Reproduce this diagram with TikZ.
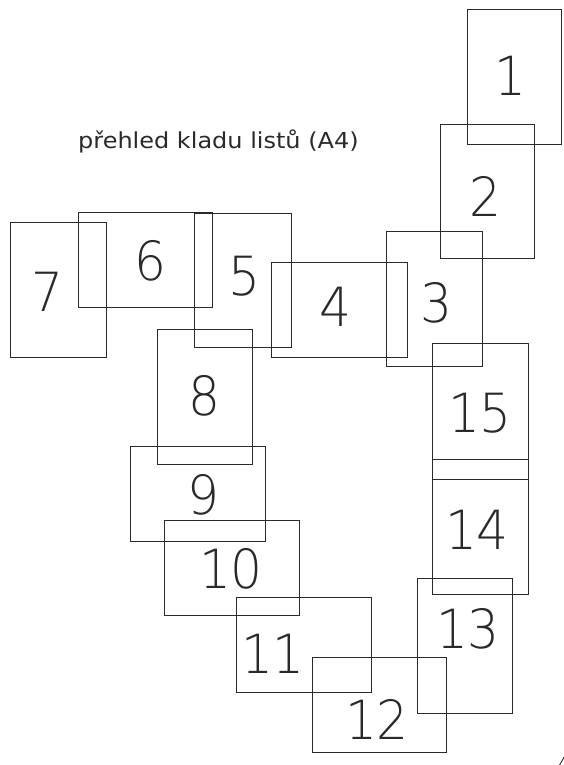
\documentclass[tikz,border=0pt]{standalone}
\usepackage{fontspec}
\setmainfont{Liberation Sans}
\newfontfamily\titlefont{DejaVu Sans}
\IfFontExistsTF{DejaVu Sans ExtraLight}
  {\newfontfamily\numfont{DejaVu Sans ExtraLight}\newcommand\numsx{0.93}}
  {\newfontfamily\numfont{Liberation Sans}\newcommand\numsx{0.88}}
\definecolor{ink}{HTML}{2A2A2A}
\newcommand\dg[1]{\scalebox{\numsx}[1]{#1}}
\begin{document}
\begin{tikzpicture}[x=1pt,y=-1pt,
  sheet/.style={draw=ink, line width=0.9pt, inner sep=0pt, outer sep=0pt, anchor=north west},
  num/.style={text=ink, inner sep=0pt, font=\numfont\fontsize{54}{54}\selectfont},
  ttl/.style={text=ink, inner sep=0pt, font=\titlefont\fontsize{22}{22}\selectfont}]
\useasboundingbox[fill=white] (0,0) rectangle (564,765);
% sheets
\node[sheet, minimum width=94pt,  minimum height=135pt] (s1)  at (467,9)   {};
\node[sheet, minimum width=94pt,  minimum height=134pt] (s2)  at (440,124) {};
\node[sheet, minimum width=96pt,  minimum height=135pt] (s3)  at (386,231) {};
\node[sheet, minimum width=136pt, minimum height=95pt]  (s4)  at (271,262) {};
\node[sheet, minimum width=97pt,  minimum height=134pt] (s5)  at (194,213) {};
\node[sheet, minimum width=134pt, minimum height=95pt]  (s6)  at (78,212)  {};
\node[sheet, minimum width=96pt,  minimum height=135pt] (s7)  at (10,222)  {};
\node[sheet, minimum width=95pt,  minimum height=135pt] (s8)  at (157,329) {};
\node[sheet, minimum width=135pt, minimum height=95pt]  (s9)  at (130,446) {};
\node[sheet, minimum width=135pt, minimum height=95pt]  (s10) at (164,520) {};
\node[sheet, minimum width=135pt, minimum height=95pt]  (s11) at (236,597) {};
\node[sheet, minimum width=134pt, minimum height=95pt]  (s12) at (312,657) {};
\node[sheet, minimum width=95pt,  minimum height=135pt] (s13) at (417,578) {};
\node[sheet, minimum width=96pt,  minimum height=135pt] (s14) at (432,459) {};
\node[sheet, minimum width=96pt,  minimum height=136pt] (s15) at (432,343) {};
% numbers
\node[num] (n1)  at (510,76)  {\dg{1}};
\node[num] (n2)  at (485,196) {\dg{2}};
\node[num] (n3)  at (436,303) {\dg{3}};
\node[num] (n4)  at (335,307) {\dg{4}};
\node[num] (n5)  at (244,276) {\dg{5}};
\node[num] (n6)  at (150,261) {\dg{6}};
\node[num] (n7)  at (47,292)  {\dg{7}};
\node[num] (n8)  at (204,396) {\dg{8}};
\node[num] (n9)  at (203,495) {\dg{9}};
\node[num] (n10) at (231,569) {\dg{10}};
\node[num] (n11) at (273,654) {\dg{11}};
\node[num] (n12) at (377,719) {\dg{12}};
\node[num] (n13) at (468,629) {\dg{13}};
\node[num] (n14) at (477,530) {\dg{14}};
\node[num] (n15) at (480,413) {\dg{15}};
% title
\node[ttl, anchor=base west] (title) at (78,148) {\scalebox{1.09}[1]{přehled kladu listů (A4)}};
% frame corner
\draw[ink, line width=0.9pt] (559.5,765) .. controls (561.5,762) .. (564,757);
\end{tikzpicture}
\end{document}
